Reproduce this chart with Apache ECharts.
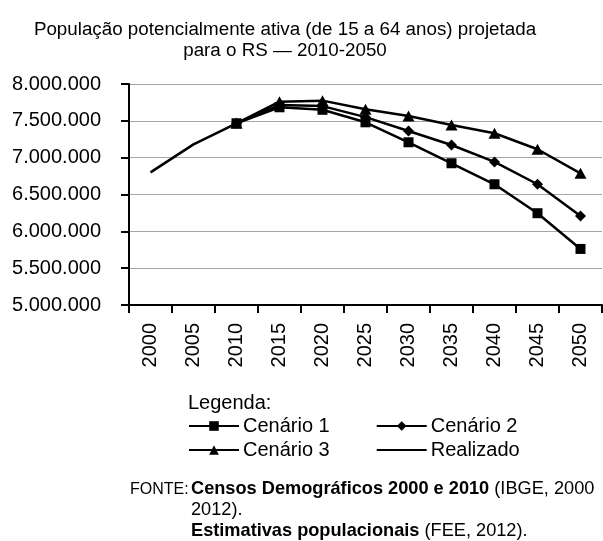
<!DOCTYPE html>
<html>
<head>
<meta charset="utf-8">
<title>População potencialmente ativa RS</title>
<script src="https://cdn.jsdelivr.net/npm/echarts@6/dist/echarts.min.js"></script>
<style>
  html, body { margin: 0; padding: 0; background: #fff; }
  #chart { width: 603px; height: 541px; }
</style>
</head>
<body>
<div id="chart"></div>
<script>
// anos (eixo x)
var anos = ["2000", "2005", "2010", "2015", "2020", "2025", "2030", "2035", "2040", "2045", "2050"];

// valores
var realizado = [6800000, 7180000, 7467000, null, null, null, null, null, null, null, null];
var cenario1 = [null, null, 7467000, 7684000, 7650000, 7480000, 7209000, 6924000, 6639000, 6246000, 5761000];
var cenario2 = [null, null, 7467000, 7715000, 7700000, 7550000, 7362000, 7172000, 6942000, 6639000, 6209000];
var cenario3 = [null, null, 7467000, 7760000, 7774000, 7656000, 7566000, 7444000, 7331000, 7114000, 6788000];

var yMin = 5000000, yMax = 8000000, yStep = 500000;

var fonte = "'Liberation Sans', Arial, sans-serif";

function pontos(v) {
  return String(v).replace(/\B(?=(\d{3})+(?!\d))/g, ".");
}

var chart = echarts.init(document.getElementById("chart"));

function serie(nome, dados, simbolo, tam) {
  return {
    name: nome,
    type: "line",
    data: dados,
    symbol: simbolo,
    symbolSize: tam,
    showSymbol: simbolo !== "none",
    animation: false,
    lineStyle: { color: "#000", width: 2.5 },
    itemStyle: { color: "#000", borderWidth: 0 },
  };
}

var legendaTexto = { fontSize: 20, color: "#000", fontFamily: fonte, padding: [0, 0, 0, -1] };
var rico = {
  n: { fontSize: 18.2, fontFamily: fonte, fill: "#000" },
  b: { fontSize: 18.2, fontFamily: fonte, fontWeight: "bold", fill: "#000" },
};

var option = {
  backgroundColor: "#fff",
  textStyle: { fontFamily: fonte, color: "#000" },
  title: {
    text: "População potencialmente ativa (de 15 a 64 anos) projetada\npara o RS — 2010-2050",
    left: 280,
    top: 14,
    textAlign: "center",
    textStyle: { fontFamily: fonte, fontSize: 18.8, fontWeight: "normal", color: "#000", lineHeight: 21.5 },
  },
  grid: { left: 129, right: 1, top: 84, bottom: 236 },
  xAxis: {
    type: "category",
    data: anos,
    boundaryGap: true,
    axisLine: { show: true, lineStyle: { color: "#000", width: 2 } },
    axisTick: { show: true, length: 8, interval: 0, lineStyle: { color: "#000", width: 2 } },
    axisLabel: { rotate: 90, margin: 18, interval: 0, fontSize: 20, color: "#000", fontFamily: fonte },
    splitLine: { show: false },
  },
  yAxis: {
    type: "value",
    min: yMin,
    max: yMax,
    interval: yStep,
    axisLine: { show: true, lineStyle: { color: "#000", width: 2 } },
    axisTick: { show: true, length: 8, lineStyle: { color: "#000", width: 2 } },
    axisLabel: { margin: 28, fontSize: 20, color: "#000", fontFamily: fonte, formatter: pontos },
    splitLine: { show: true, lineStyle: { color: "#a6a6a6", width: 1 } },
  },
  legend: [
    {
      data: ["Cenário 1", "Cenário 2"],
      left: 188, top: 416, padding: 0,
      itemWidth: 50, itemHeight: 12, itemGap: 46,
      textStyle: legendaTexto,
      selectedMode: false,
    },
    {
      data: ["Cenário 3", { name: "Realizado", itemStyle: { opacity: 0 } }],
      left: 188, top: 440, padding: 0,
      itemWidth: 50, itemHeight: 12, itemGap: 46,
      textStyle: legendaTexto,
      selectedMode: false,
    },
  ],
  graphic: [
    { type: "text", left: 188, top: 393, style: { text: "Legenda:", font: "20px " + fonte, fill: "#000" } },
    { type: "text", left: 130, top: 482, style: { text: "FONTE:", font: "16px " + fonte, fill: "#000" } },
    {
      type: "text", left: 191, top: 480,
      style: { text: "{b|Censos Demográficos 2000 e 2010}{n| (IBGE, 2000}", rich: rico },
    },
    { type: "text", left: 191, top: 501, style: { text: "2012).", font: "18.2px " + fonte, fill: "#000" } },
    {
      type: "text", left: 191, top: 522,
      style: { text: "{b|Estimativas populacionais}{n| (FEE, 2012).}", rich: rico },
    },
  ],
  series: [
    serie("Realizado", realizado, "none", 0),
    serie("Cenário 3", cenario3, "triangle", [12, 11]),
    serie("Cenário 2", cenario2, "diamond", [11, 11]),
    serie("Cenário 1", cenario1, "rect", [10, 10]),
  ],
};

chart.setOption(option);
</script>
</body>
</html>
